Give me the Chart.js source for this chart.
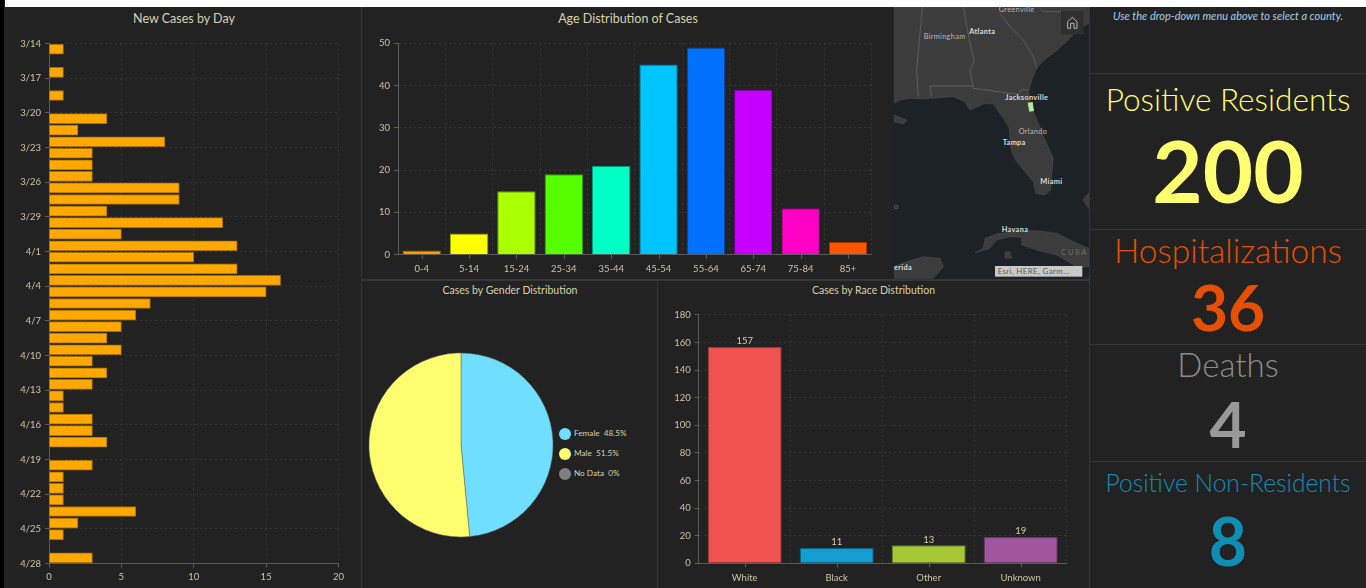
<!DOCTYPE html>
<html>
<head>
<meta charset="utf-8">
<title>County COVID-19 Dashboard</title>
<script src="https://cdn.jsdelivr.net/npm/chart.js@4"></script>
<style>
    html, body { margin: 0; padding: 0; width: 1366px; height: 588px; overflow: hidden; background: #222; font-family: Lato, sans-serif; }
    .abs { position: absolute; }
    canvas { position: absolute; }
    #white-top { left: 5px; top: 0; width: 1361px; height: 7px; background: #fff; }
    #black-side { left: 0; top: 0; width: 4px; height: 588px; background: #000; }
    .rule { position: absolute; background: #363636; }
    #map { left: 890px; top: 0; width: 200px; height: 285px; clip-path: inset(7px 1px 6px 4px); }
    .stat { position: absolute; left: 1090px; width: 276px; text-align: center; line-height: 0; white-space: nowrap; }
    .stat-label { font-weight: 300; }
    .stat-value { font-weight: 700; }
    #hint { top: 16px; font-size: 11px; font-style: italic; color: #a5cfe2; }
    .panel-title { position: absolute; text-align: center; color: #d6d2ae; white-space: nowrap; }
    .title-big { top: 11px; font-size: 12.5px; line-height: 15px; }
    .title-small { top: 284px; font-size: 10.5px; line-height: 13px; }
    .legend-row { position: absolute; left: 559px; height: 14px; line-height: 14px; font-size: 8.2px; color: #d6d2ae; white-space: pre; }
    .legend-dot { display: inline-block; width: 12px; height: 12px; border-radius: 50%; vertical-align: middle; margin-right: 3px; }
</style>
</head>
<body>
<div id="black-side" class="abs"></div>
<div id="white-top" class="abs"></div>

<div class="rule" style="left:361px;top:7px;width:1px;height:581px"></div>
<div class="rule" style="left:362px;top:279px;width:727px;height:2px"></div>
<div class="rule" style="left:657px;top:280px;width:1px;height:308px"></div>
<div class="rule" style="left:1089px;top:7px;width:1px;height:581px"></div>
<div class="rule" style="left:1090px;top:73px;width:276px;height:1px"></div>
<div class="rule" style="left:1090px;top:229px;width:276px;height:1px"></div>
<div class="rule" style="left:1090px;top:344px;width:276px;height:1px"></div>
<div class="rule" style="left:1090px;top:461px;width:276px;height:1px"></div>

<!-- Mapa de fundo: esboço simples da costa, sem relação com as escalas dos gráficos -->
<svg id="map" class="abs" viewBox="0 0 600 855" font-family="Lato, sans-serif">
    <rect width="600" height="855" fill="#1d2226"/>
    <g fill="#3c3c3c" stroke="#505050" stroke-width="1.5">
        <path d="M12,22 L596,22 L596,70 L560,92 L530,125 L495,155 L462,180 L440,205 L425,240 L416,275 L420,305 L432,340 L447,375 L465,420 L490,475 L485,520 L482,570 L465,585 L437,580 L430,545 L405,515 L380,485 L365,455 L360,430 L358,385 L340,355 L310,312 L285,310 L240,330 L225,305 L190,290 L130,295 L100,297 L60,295 L30,300 L12,310 Z"/>
        <path d="M12,345 L50,360 L40,372 L12,365 Z"/>
        <path d="M255,758 L280,745 L285,715 L320,702 L370,695 L440,692 L500,700 L550,725 L596,745 L596,800 L560,800 L500,765 L440,750 L395,735 L395,712 L360,710 L320,720 L300,745 Z"/>
        <path d="M345,755 L360,755 L365,775 L345,775 Z"/>
        <path d="M12,800 L50,785 L100,770 L150,775 L160,800 L130,835 L12,835 Z"/>
        <path d="M596,580 L578,600 L596,625 Z"/>
    </g>
    <g fill="none" stroke="#6c6c6c" stroke-width="2">
        <path d="M97,22 L80,210 L85,290"/>
        <path d="M220,22 L240,130 L253,185 L240,210 L250,265 L385,283 L395,268 L415,270"/>
        <path d="M120,258 L250,258 M120,258 L125,290"/>
        <path d="M330,40 L360,80 L400,120 L430,170 L440,205"/>
        <path d="M450,25 L460,35 L520,35"/>
    </g>
    <path d="M413,308 L428,306 L432,333 L418,335 Z" fill="#b4e6a0"/>
    <g fill="#b8b8b8" font-size="22" letter-spacing="1">
        <text x="326" y="37">Greenville</text>
        <text x="101" y="116">Birmingham</text>
        <text x="386" y="401">Orlando</text>
        <text x="514" y="765" fill="#707070" letter-spacing="5">CUBA</text>
        <text x="12" y="628" fill="#707070">o</text>
    </g>
    <g fill="#dcdcdc" font-size="22" font-weight="700" letter-spacing="1">
        <text x="238" y="102">Atlanta</text>
        <text x="346" y="300">Jacksonville</text>
        <text x="338" y="434">Tampa</text>
        <text x="451" y="553">Miami</text>
        <text x="335" y="695">Havana</text>
        <text x="12" y="809">erida</text>
    </g>
    <rect x="513" y="33" width="68" height="70" fill="#2f2f2f"/>
    <path d="M533,85 L533,65 L547,52 L561,65 L561,85 L552,85 L552,70 L542,70 L542,85 Z" fill="none" stroke="#cfcfcf" stroke-width="2.5"/>
    <rect x="315" y="798" width="262" height="32" fill="#c9c9c9"/>
    <text x="323" y="823" font-size="24" fill="#5a5a5a" letter-spacing="1">Esri, HERE, Garm...</text>
</svg>

<div class="panel-title title-big" style="left:4px;width:360px">New Cases by Day</div>
<div class="panel-title title-big" style="left:362px;width:532px">Age Distribution of Cases</div>
<div class="panel-title title-small" style="left:362px;width:296px">Cases by Gender Distribution</div>
<div class="panel-title title-small" style="left:658px;width:431px">Cases by Race Distribution</div>

<canvas id="dayChart" style="left:4px;top:7px" width="357" height="581"></canvas>
<canvas id="ageChart" style="left:362px;top:7px" width="532" height="273"></canvas>
<canvas id="genderChart" style="left:367px;top:351px" width="188" height="188"></canvas>
<div id="genderLegend"></div>
<canvas id="raceChart" style="left:658px;top:280px" width="431" height="308"></canvas>

<div id="hint" class="stat">Use the drop-down menu above to select a county.</div>
<div class="stat stat-label" style="top:99px;font-size:31.6px;color:#ffff70">Positive Residents</div>
<div class="stat stat-value" style="top:170px;font-size:87px;color:#ffff70">200</div>
<div class="stat stat-label" style="top:250px;font-size:33.5px;color:#e65000">Hospitalizations</div>
<div class="stat stat-value" style="top:307px;font-size:64px;color:#e65000">36</div>
<div class="stat stat-label" style="top:364px;font-size:33px;color:#8c8c8c">Deaths</div>
<div class="stat stat-value" style="top:424px;font-size:64px;color:#999999">4</div>
<div class="stat stat-label" style="top:483px;font-size:24.6px;color:#0e8db5">Positive Non-Residents</div>
<div class="stat stat-value" style="top:541px;font-size:66px;color:#0e8db5">8</div>

<script>
// Novos casos por dia, de 3/14 a 4/27 (um valor por dia)
const dayCases = [1, 0, 1, 0, 1, 0, 4, 2, 8, 3, 3, 3, 9, 9, 4, 12, 5, 13, 10, 13, 16, 15, 7, 6, 5, 4, 5, 3, 4, 3, 1, 1, 3, 3, 4, 0, 3, 1, 1, 1, 6, 2, 1, 0, 3];
const dayTicks = ['3/14', '3/17', '3/20', '3/23', '3/26', '3/29', '4/1', '4/4', '4/7', '4/10', '4/13', '4/16', '4/19', '4/22', '4/25', '4/28'];

const ageLabels = ['0-4', '5-14', '15-24', '25-34', '35-44', '45-54', '55-64', '65-74', '75-84', '85+'];
const ageCases = [1, 5, 15, 19, 21, 45, 49, 39, 11, 3];
const ageColors = ['#ff9d00', '#ffff00', '#aaff00', '#55ff00', '#00ffc5', '#00c5ff', '#0070ff', '#c500ff', '#ff00c5', '#ff5500'];

const genderLabels = ['Female', 'Male', 'No Data'];
const genderShares = [48.5, 51.5, 0];
const genderColors = ['#70dfff', '#ffff70', '#808080'];

const raceLabels = ['White', 'Black', 'Other', 'Unknown'];
const raceCases = [157, 11, 13, 19];
const raceColors = ['#f05252', '#149dcf', '#a7c836', '#a0559c'];

const TEXT_COLOR = '#d6d2ae';
const TICK_COLOR = '#c9c6a6';
const GRID_COLOR = '#353535';
const AXIS_COLOR = '#5c5c5c';
const TICK_FONT = { family: 'Lato', size: 9.5 };

Chart.defaults.animation = false;
Chart.defaults.responsive = false;
Chart.defaults.color = TICK_COLOR;
Chart.defaults.plugins.legend.display = false;
Chart.defaults.plugins.tooltip.enabled = false;

// Escurece a cor da barra para o contorno fino
function darken(hex) {
    const n = parseInt(hex.slice(1), 16);
    const part = shift => Math.round(((n >> shift) & 255) * 0.62);
    return `rgb(${part(16)}, ${part(8)}, ${part(0)})`;
}

function gridStyle(drawTicks) {
    return { color: GRID_COLOR, tickColor: AXIS_COLOR, tickLength: 4, tickBorderDash: [], drawTicks: drawTicks };
}

const axisBorder = { color: AXIS_COLOR, dash: [2, 3] };

// Marcas do eixo no centro de cada categoria (as linhas da grade ficam entre as barras)
const centerTicks = {
    id: 'centerTicks',
    afterDraw(chart) {
        const { ctx, scales: { x } } = chart;
        ctx.save();
        ctx.strokeStyle = AXIS_COLOR;
        x.ticks.forEach((tick, i) => {
            const px = Math.round(x.getPixelForTick(i)) + 0.5;
            ctx.beginPath();
            ctx.moveTo(px, x.top);
            ctx.lineTo(px, x.top + 4);
            ctx.stroke();
        });
        ctx.restore();
    },
};

// Valor acima de cada barra do gráfico de raça
const barValues = {
    id: 'barValues',
    afterDatasetsDraw(chart) {
        const { ctx } = chart;
        ctx.save();
        ctx.fillStyle = TEXT_COLOR;
        ctx.font = '9.5px Lato';
        ctx.textAlign = 'center';
        ctx.textBaseline = 'bottom';
        chart.getDatasetMeta(0).data.forEach((bar, i) => {
            ctx.fillText(raceCases[i], bar.x, bar.y - 1);
        });
        ctx.restore();
    },
};

function renderDayChart() {
    const points = dayCases
        .map((v, i) => ({ x: v, y: i + 0.5 }))
        .filter(p => p.x > 0);

    new Chart(document.getElementById('dayChart'), {
        type: 'bar',
        data: {
            datasets: [{
                data: points,
                backgroundColor: '#ffa800',
                borderColor: '#a87000',
                borderWidth: 1,
                barThickness: 10,
            }],
        },
        options: {
            indexAxis: 'y',
            layout: { padding: { top: 36.5, right: 22.5 } },
            scales: {
                x: {
                    type: 'linear',
                    min: 0,
                    max: 20,
                    afterFit: s => { s.height = 24.5; },
                    border: axisBorder,
                    grid: gridStyle(true),
                    ticks: { stepSize: 5, font: TICK_FONT, padding: 4 },
                },
                y: {
                    type: 'linear',
                    reverse: true,
                    offset: false,
                    min: 0,
                    max: 45,
                    afterFit: s => { s.width = 45; },
                    border: axisBorder,
                    grid: { ...gridStyle(true), offset: false },
                    ticks: {
                        stepSize: 3,
                        autoSkip: false,
                        font: TICK_FONT,
                        padding: 4,
                        callback: value => dayTicks[value / 3],
                    },
                },
            },
        },
    });
}

function columnScales(maxValue, stepValue, leftWidth, bottomHeight) {
    return {
        x: {
            afterFit: s => { s.height = bottomHeight; },
            border: axisBorder,
            grid: gridStyle(false),
            ticks: { font: TICK_FONT, padding: 9, maxRotation: 0 },
        },
        y: {
            min: 0,
            max: maxValue,
            afterFit: s => { s.width = leftWidth; },
            border: axisBorder,
            grid: gridStyle(true),
            ticks: { stepSize: stepValue, font: TICK_FONT, padding: 4 },
        },
    };
}

function renderAgeChart() {
    new Chart(document.getElementById('ageChart'), {
        type: 'bar',
        data: {
            labels: ageLabels,
            datasets: [{
                data: ageCases,
                backgroundColor: ageColors,
                borderColor: ageColors.map(darken),
                borderWidth: 1,
                categoryPercentage: 1,
                barPercentage: 0.81,
            }],
        },
        options: {
            layout: { padding: { top: 36.3, right: 22.3 } },
            scales: columnScales(50, 10, 36, 25.3),
        },
        plugins: [centerTicks],
    });
}

function renderGenderChart() {
    new Chart(document.getElementById('genderChart'), {
        type: 'pie',
        data: {
            labels: genderLabels,
            datasets: [{
                data: genderShares,
                backgroundColor: genderColors,
                borderColor: '#5f6a5a',
                borderWidth: 0.5,
                radius: 92,
            }],
        },
    });

    // Legenda em HTML, montada a partir das mesmas listas
    const legend = document.getElementById('genderLegend');
    genderLabels.forEach((label, i) => {
        const row = document.createElement('div');
        row.className = 'legend-row';
        row.style.top = `${426 + i * 20}px`;
        row.innerHTML = `<span class="legend-dot" style="background:${genderColors[i]}"></span>${label}  ${genderShares[i]}%`;
        legend.appendChild(row);
    });
}

function renderRaceChart() {
    new Chart(document.getElementById('raceChart'), {
        type: 'bar',
        data: {
            labels: raceLabels,
            datasets: [{
                data: raceCases,
                backgroundColor: raceColors,
                borderColor: raceColors.map(darken),
                borderWidth: 1,
                categoryPercentage: 1,
                barPercentage: 0.805,
            }],
        },
        options: {
            layout: { padding: { top: 34.9, right: 22.3 } },
            scales: columnScales(180, 20, 40.7, 24.7),
        },
        plugins: [centerTicks, barValues],
    });
}

renderDayChart();
renderAgeChart();
renderGenderChart();
renderRaceChart();
</script>
</body>
</html>
